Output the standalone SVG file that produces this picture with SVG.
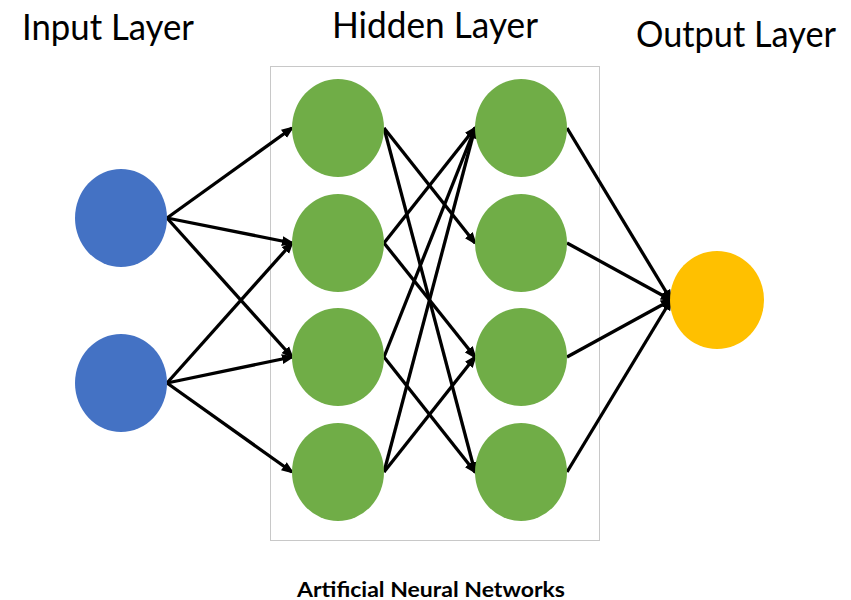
<svg xmlns="http://www.w3.org/2000/svg" width="851" height="600" viewBox="0 0 851 600">
<defs>
<style>
.title{font-family:Lato,"Open Sans","Liberation Sans",sans-serif;font-size:37px;fill:#000}
.caption{font-family:Lato,"Open Sans","Liberation Sans",sans-serif;font-size:21px;font-weight:bold;fill:#000}
.edge{stroke:#000;stroke-width:3.3;fill:none;marker-end:url(#arrow)}
.in{fill:#4472C4}
.hid{fill:#70AD47}
.out{fill:#FFC000}
</style>
<marker id="arrow" markerUnits="userSpaceOnUse" markerWidth="13" markerHeight="11" viewBox="0 0 13 11" refX="10" refY="5.5" orient="auto">
<path d="M0,0.5 L13,5.5 L0,10.5 z" fill="#000"/>
</marker>
</defs>
<rect width="851" height="600" fill="#fff"/>
<rect id="hidden-box" x="270.5" y="66.5" width="329" height="474" fill="none" stroke="#c8c8c8" stroke-width="1"/>
<g id="labels">
<text class="title" x="22" y="40" textLength="172" lengthAdjust="spacingAndGlyphs">Input Layer</text>
<text class="title" x="332" y="38" textLength="206" lengthAdjust="spacingAndGlyphs">Hidden Layer</text>
<text class="title" x="636" y="47" textLength="200" lengthAdjust="spacingAndGlyphs">Output Layer</text>
<text class="caption" x="297" y="597" textLength="268" lengthAdjust="spacingAndGlyphs">Artificial Neural Networks</text>
</g>
<g id="connectors">
<line class="edge" x1="167" y1="218" x2="292" y2="128"/>
<line class="edge" x1="167" y1="218" x2="292" y2="243"/>
<line class="edge" x1="167" y1="218" x2="292" y2="357"/>
<line class="edge" x1="167" y1="383" x2="292" y2="243"/>
<line class="edge" x1="167" y1="383" x2="292" y2="357"/>
<line class="edge" x1="167" y1="383" x2="292" y2="472"/>
<line class="edge" x1="384" y1="128" x2="475" y2="243"/>
<line class="edge" x1="384" y1="128" x2="475" y2="472"/>
<line class="edge" x1="384" y1="243" x2="475" y2="128"/>
<line class="edge" x1="384" y1="243" x2="475" y2="357"/>
<line class="edge" x1="384" y1="357" x2="475" y2="128"/>
<line class="edge" x1="384" y1="357" x2="475" y2="472"/>
<line class="edge" x1="384" y1="472" x2="475" y2="128"/>
<line class="edge" x1="384" y1="472" x2="475" y2="357"/>
<line class="edge" x1="567" y1="128" x2="671" y2="300"/>
<line class="edge" x1="567" y1="243" x2="671" y2="300"/>
<line class="edge" x1="567" y1="357" x2="671" y2="300"/>
<line class="edge" x1="567" y1="472" x2="671" y2="300"/>
</g>
<g id="input-1"><ellipse class="in" cx="121" cy="218" rx="46" ry="49"/></g>
<g id="input-2"><ellipse class="in" cx="121" cy="383" rx="46" ry="49"/></g>
<g id="hidden1-1"><ellipse class="hid" cx="338" cy="128" rx="46" ry="49"/></g>
<g id="hidden1-2"><ellipse class="hid" cx="338" cy="243" rx="46" ry="49"/></g>
<g id="hidden1-3"><ellipse class="hid" cx="338" cy="357" rx="46" ry="49"/></g>
<g id="hidden1-4"><ellipse class="hid" cx="338" cy="472" rx="46" ry="49"/></g>
<g id="hidden2-1"><ellipse class="hid" cx="521" cy="128" rx="46" ry="49"/></g>
<g id="hidden2-2"><ellipse class="hid" cx="521" cy="243" rx="46" ry="49"/></g>
<g id="hidden2-3"><ellipse class="hid" cx="521" cy="357" rx="46" ry="49"/></g>
<g id="hidden2-4"><ellipse class="hid" cx="521" cy="472" rx="46" ry="49"/></g>
<g id="output-1"><ellipse class="out" cx="717" cy="300" rx="47" ry="49"/></g>
</svg>
